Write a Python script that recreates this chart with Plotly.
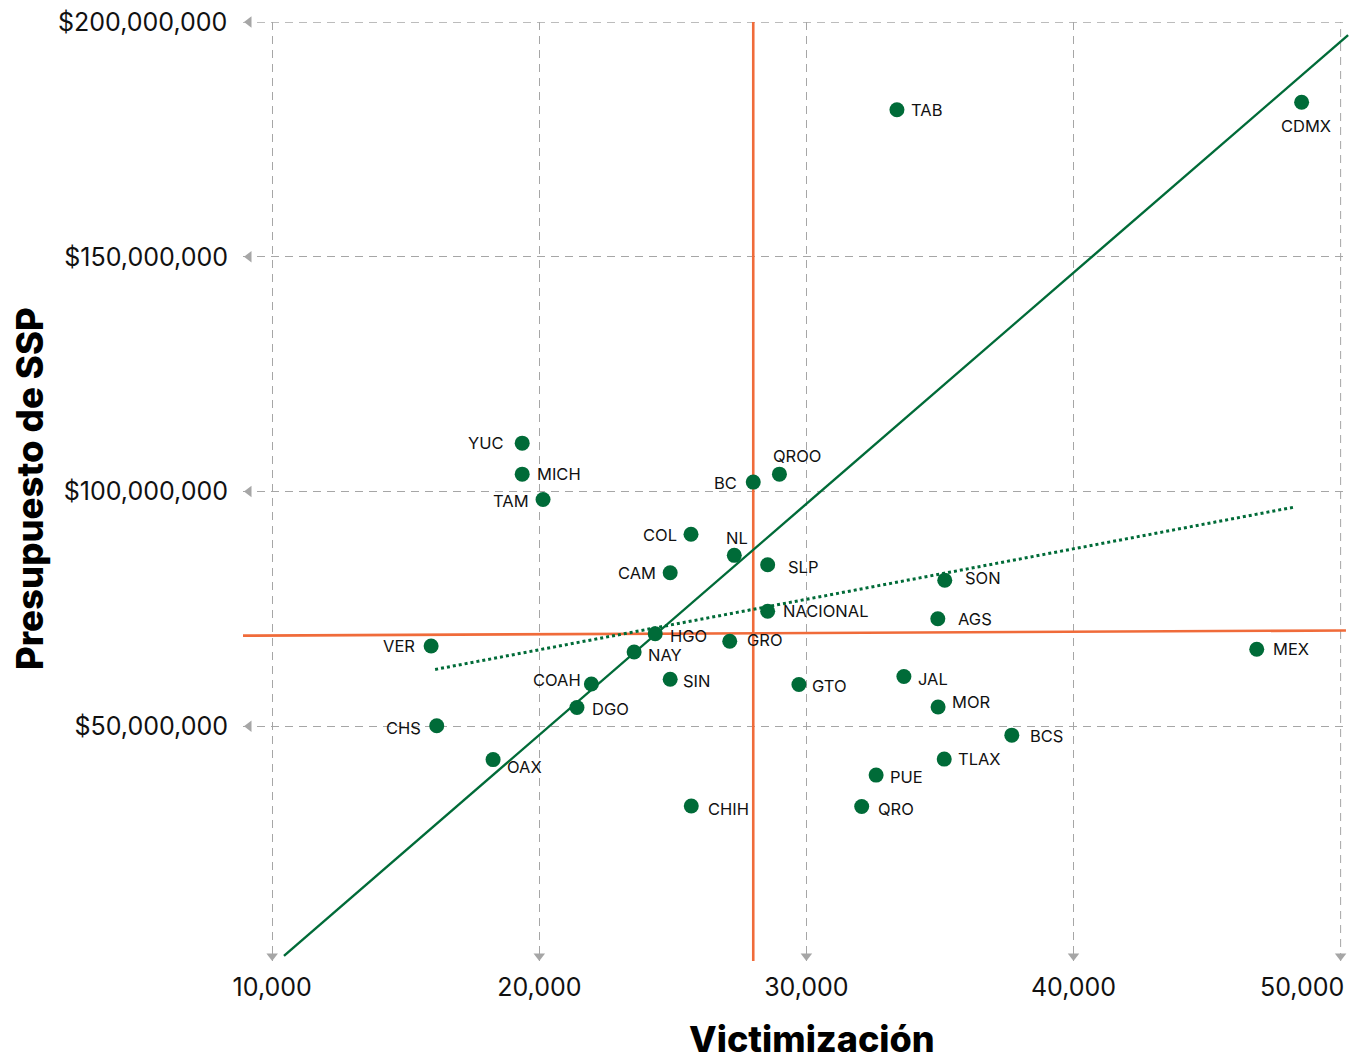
import plotly.graph_objects as go

# ---------------- data ----------------
states = ["TAB", "CDMX", "YUC", "MICH", "TAM", "COL", "CAM", "BC", "QROO", "NL",
          "SLP", "NACIONAL", "HGO", "GRO", "NAY", "SIN", "GTO", "SON", "AGS", "MEX",
          "JAL", "MOR", "BCS", "TLAX", "PUE", "QRO", "VER", "CHS", "COAH", "DGO",
          "OAX", "CHIH"]
victimizacion = [33390, 48540, 19360, 19360, 20140, 25680, 24900, 28010, 28990, 27300,
                 28550, 28550, 24340, 27130, 23550, 24900, 29720, 35180, 34920, 46860,
                 33650, 34930, 37690, 35160, 32610, 32070, 15950, 16160, 21950, 21410,
                 18270, 25690]
presupuesto_mdp = [181.3, 182.9, 110.3, 103.7, 98.3, 90.9, 82.7, 102.0, 103.7, 86.4,
                   84.4, 74.5, 69.7, 68.1, 65.8, 60.0, 58.9, 81.1, 72.9, 66.4,
                   60.6, 54.1, 48.1, 43.0, 39.6, 32.9, 67.1, 50.1, 59.0, 54.0,
                   42.9, 33.0]
presupuesto = [v * 1e6 for v in presupuesto_mdp]

# trend lines (endpoints as drawn)
trend_x = [10440, 50280]
trend_y = [1.1e6, 197.2e6]
trend2_x = [16100, 48290]
trend2_y = [62.1e6, 96.7e6]

# reference (average) lines
mean_victim = 28010
mean_budget_x = [8907, 50200]
mean_budget_y = [69.3e6, 70.4e6]

x_ticks = [10000, 20000, 30000, 40000, 50000]
x_ticktext = ["10,000", "20,000", "30,000", "40,000", "50,000"]
y_ticks = [50e6, 100e6, 150e6, 200e6]
y_ticktext = ["$50,000,000", "$100,000,000", "$150,000,000", "$200,000,000"]

# ---------------- style ----------------
GREEN = "#006B38"
ORANGE = "#F06B3A"
GRID = "#A6A6A6"
FONT = "Inter"
X_RANGE = [8907, 50314]
Y_RANGE = [0, 200e6]
OFF = 8  # page body margin of the html page
PLOT_L, PLOT_R, PLOT_T, PLOT_B = 243 - OFF, 1349 - OFF, 22 - OFF, 961 - OFF
W, H = 1358 - OFF, 1063 - OFF
px_x = (X_RANGE[1] - X_RANGE[0]) / (PLOT_R - PLOT_L)
px_y = (Y_RANGE[1] - Y_RANGE[0]) / (PLOT_B - PLOT_T)
DASH = "8px,6px"

# label offsets (pixels): anchor, dx, dy (dy positive = down)
label_style = {
    "TAB": ("left", 12, 0), "CDMX": ("center", 4, 24), "YUC": ("right", -16, 0),
    "MICH": ("left", 13, 0), "TAM": ("right", -12, 1.5), "COL": ("right", -12, 1),
    "CAM": ("right", -12, 0), "BC": ("right", -14, 0.5), "QROO": ("center", 18, -18),
    "NL": ("center", 3, -17.5), "SLP": ("left", 18, 2), "NACIONAL": ("left", 13, 0),
    "HGO": ("left", 13, 2.5), "GRO": ("left", 15, -1), "NAY": ("left", 12, 3),
    "SIN": ("left", 11, 1.5), "GTO": ("left", 11, 2), "SON": ("left", 18, -2.5),
    "AGS": ("left", 18, 0), "MEX": ("left", 14, 0), "JAL": ("left", 12.5, 2.5),
    "MOR": ("left", 12, -5), "BCS": ("left", 16.5, 0.5), "TLAX": ("left", 11.5, -0.5),
    "PUE": ("left", 12, 2), "QRO": ("left", 14, 2), "VER": ("right", -14, 0),
    "CHS": ("right", -13.5, 2.5), "COAH": ("right", -8, -4.5), "DGO": ("left", 13.5, 2),
    "OAX": ("left", 12, 7), "CHIH": ("left", 15, 2.5),
}

fig = go.Figure()

# edge gridlines (right-most x tick and top y tick sit on the plot edge)
fig.add_trace(go.Scatter(x=[x_ticks[-1], x_ticks[-1]], y=Y_RANGE, mode="lines",
                         line=dict(color=GRID, width=1, dash=DASH),
                         hoverinfo="skip", showlegend=False))
fig.add_trace(go.Scatter(x=X_RANGE, y=[y_ticks[-1], y_ticks[-1]], mode="lines",
                         line=dict(color=GRID, width=1.5, dash=DASH),
                         hoverinfo="skip", showlegend=False))

# orange average lines
fig.add_trace(go.Scatter(x=[mean_victim, mean_victim], y=Y_RANGE, mode="lines",
                         line=dict(color=ORANGE, width=2.6), hoverinfo="skip",
                         showlegend=False))
fig.add_trace(go.Scatter(x=mean_budget_x, y=mean_budget_y, mode="lines",
                         line=dict(color=ORANGE, width=2.6), hoverinfo="skip",
                         showlegend=False))

# green trend lines
fig.add_trace(go.Scatter(x=trend_x, y=trend_y, mode="lines",
                         line=dict(color=GREEN, width=2.4), hoverinfo="skip",
                         showlegend=False))
fig.add_trace(go.Scatter(x=trend2_x, y=trend2_y, mode="lines",
                         line=dict(color=GREEN, width=3, dash="3px,3px"),
                         hoverinfo="skip", showlegend=False))

# grid arrows
fig.add_trace(go.Scatter(x=x_ticks, y=[Y_RANGE[0] + 5 * px_y] * len(x_ticks),
                         mode="markers", cliponaxis=False, hoverinfo="skip",
                         marker=dict(symbol="triangle-down", size=10, color=GRID),
                         showlegend=False))
fig.add_trace(go.Scatter(x=[X_RANGE[0] + 6 * px_x] * len(y_ticks), y=y_ticks,
                         mode="markers", cliponaxis=False, hoverinfo="skip",
                         marker=dict(symbol="triangle-left", size=10, color=GRID),
                         showlegend=False))

# points
fig.add_trace(go.Scatter(x=victimizacion, y=presupuesto, mode="markers",
                         marker=dict(size=15, color=GREEN, line=dict(width=0)),
                         text=states, hovertemplate="%{text}<extra></extra>",
                         cliponaxis=False, showlegend=False))

annotations = []
for s, xv, yv in zip(states, victimizacion, presupuesto):
    anchor, dx, dy = label_style[s]
    annotations.append(dict(x=xv, y=yv, text=s, showarrow=False, xanchor=anchor,
                            yanchor="middle", xshift=dx, yshift=-dy,
                            font=dict(family=FONT, size=16.5, color="#111111")))

# last x tick label is right-aligned to its gridline (kept inside the page)
annotations.append(dict(x=x_ticks[-1], y=0, yref="paper", text=x_ticktext[-1],
                        showarrow=False, xanchor="right", yanchor="middle",
                        xshift=5, yshift=-(987 - 961),
                        font=dict(family=FONT, size=25, color="#111111")))
# top y tick label (on the plot edge)
annotations.append(dict(x=0, xref="paper", y=y_ticks[-1], text=y_ticktext[-1],
                        showarrow=False, xanchor="right", yanchor="middle",
                        xshift=-14, yshift=0,
                        font=dict(family=FONT, size=25, color="#111111")))

# axis titles
annotations.append(dict(xref="paper", yref="paper",
                        x=(811.5 - 243) / (1349 - 243),
                        y=(961 - 1039) / (961 - 22),
                        text="Victimización", showarrow=False,
                        xanchor="center", yanchor="middle", borderpad=0,
                        font=dict(family=FONT, size=36, color="#000000", weight=800)))
annotations.append(dict(xref="paper", yref="paper",
                        x=(30 - 243) / (1349 - 243),
                        y=(961 - 489) / (961 - 22),
                        text="Presupuesto de SSP", showarrow=False, textangle=-90,
                        xanchor="center", yanchor="middle", borderpad=0,
                        font=dict(family=FONT, size=36.5, color="#000000", weight=800)))

fig.update_layout(
    width=W, height=H,
    margin=dict(l=PLOT_L, r=W - PLOT_R, t=PLOT_T, b=H - PLOT_B, pad=0),
    paper_bgcolor="white", plot_bgcolor="white",
    font=dict(family=FONT, color="#111111"),
    annotations=annotations,
    xaxis=dict(range=X_RANGE, tickvals=x_ticks[:-1], ticktext=x_ticktext[:-1],
               showgrid=True, gridcolor=GRID, gridwidth=1, griddash=DASH,
               zeroline=False, showline=False, ticks="",
               ticklabelstandoff=9, tickfont=dict(family=FONT, size=25, color="#111111")),
    yaxis=dict(range=Y_RANGE, tickvals=y_ticks[:-1], ticktext=y_ticktext[:-1],
               showgrid=True, gridcolor=GRID, gridwidth=1, griddash=DASH,
               zeroline=False, showline=False, ticks="",
               ticklabelstandoff=14, tickfont=dict(family=FONT, size=25, color="#111111")),
    hovermode="closest",
)

fig.write_html("out.html")
